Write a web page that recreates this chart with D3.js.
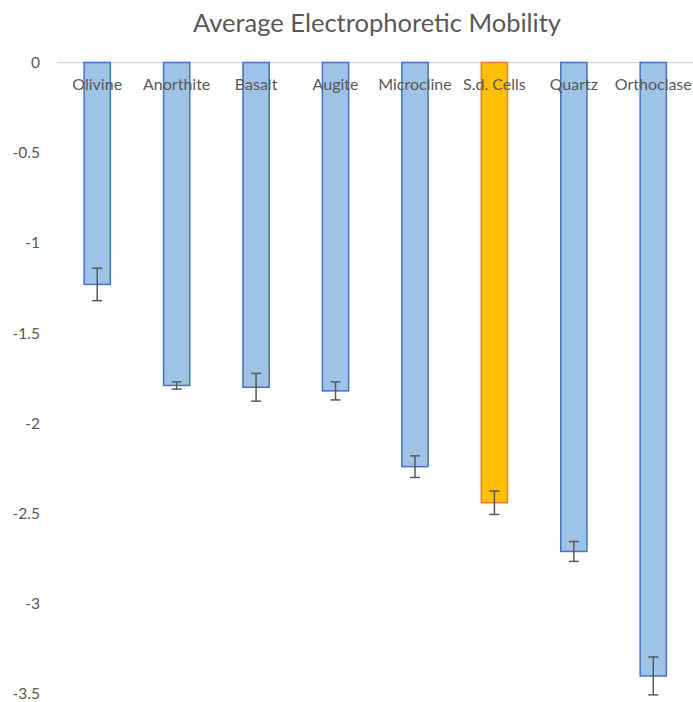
<!DOCTYPE html>
<html><head><meta charset="utf-8">
<script src="https://cdn.jsdelivr.net/npm/d3@7"></script>
<style>body{margin:0;background:#fff}svg{display:block}text{font-family:Lato,"Open Sans",sans-serif}</style>
</head><body>
<script>
const categories = ["Olivine","Anorthite","Basalt","Augite","Microcline","S.d. Cells","Quartz","Orthoclase"];
const values = [-1.23,-1.79,-1.80,-1.82,-2.24,-2.44,-2.71,-3.40];
const errors = [0.09,0.02,0.077,0.05,0.06,0.065,0.055,0.105];
const highlight = ["S.d. Cells"];
const yTicks = [0,-0.5,-1,-1.5,-2,-2.5,-3,-3.5];
const yTickLabels = ["0","-0.5","-1","-1.5","-2","-2.5","-3","-3.5"];

const W=693,H=702;
const svg=d3.select("body").append("svg").attr("width",W).attr("height",H);
const y=d3.scaleLinear().domain([0,-3.5]).range([62.5,694]);
const x=d3.scaleBand().domain(categories).range([57.5,693]).paddingInner(0.67).paddingOuter(0.335);

svg.append("text").attr("x",377).attr("y",32).attr("text-anchor","middle")
  .attr("font-size",25.5).attr("fill","#595959").text("Average Electrophoretic Mobility");

const yAxis=svg.append("g");
yAxis.selectAll("text").data(yTicks).join("text")
  .attr("x",40).attr("y",d=>y(d)).attr("dy","0.35em").attr("text-anchor","end")
  .attr("font-size",15.5).attr("fill","#595959").text((d,i)=>yTickLabels[i]);

svg.append("line").attr("x1",57).attr("x2",693).attr("y1",y(0)).attr("y2",y(0))
  .attr("stroke","#d9d9d9").attr("stroke-width",1.5);

const g=svg.append("g");
g.selectAll("rect").data(categories).join("rect")
  .attr("x",d=>x(d)).attr("width",x.bandwidth())
  .attr("y",y(0)).attr("height",(d,i)=>y(values[i])-y(0))
  .attr("fill",d=>highlight.includes(d)?"#FFC000":"#9DC3E6")
  .attr("stroke",d=>highlight.includes(d)?"#ED7D31":"#4472C4").attr("stroke-width",1.5);

const eb=svg.append("g").attr("stroke","#595959").attr("stroke-width",1.5);
categories.forEach((c,i)=>{
  const cx=x(c)+x.bandwidth()/2, lo=y(values[i]-errors[i]), hi=y(values[i]+errors[i]);
  eb.append("line").attr("x1",cx).attr("x2",cx).attr("y1",hi).attr("y2",lo);
  eb.append("line").attr("x1",cx-5).attr("x2",cx+5).attr("y1",hi).attr("y2",hi);
  eb.append("line").attr("x1",cx-5).attr("x2",cx+5).attr("y1",lo).attr("y2",lo);
});

svg.append("g").selectAll("text").data(categories).join("text")
  .attr("x",d=>x(d)+x.bandwidth()/2).attr("y",90).attr("text-anchor","middle")
  .attr("font-size",16).attr("fill","#595959").text(d=>d);
</script>
</body></html>
